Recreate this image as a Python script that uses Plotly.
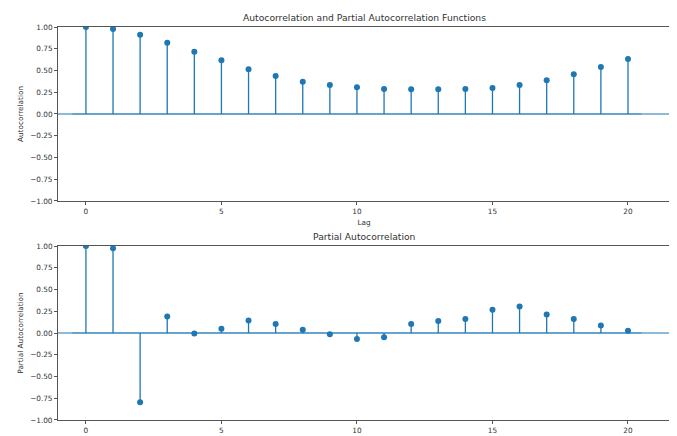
import plotly.graph_objects as go
from plotly.subplots import make_subplots

lags = list(range(21))
acf_vals = [1.0, 0.977, 0.91, 0.82, 0.716, 0.617, 0.513, 0.437, 0.371, 0.333, 0.307,
            0.287, 0.284, 0.284, 0.287, 0.299, 0.333, 0.387, 0.456, 0.540, 0.632]
pacf_vals = [1.0, 0.973, -0.795, 0.19, -0.005, 0.05, 0.145, 0.103, 0.038, -0.015, -0.069,
             -0.05, 0.103, 0.137, 0.16, 0.267, 0.305, 0.214, 0.16, 0.087, 0.027]
band = 0.012
yticks = [-1.0, -0.75, -0.5, -0.25, 0.0, 0.25, 0.5, 0.75, 1.0]
ytick_text = ["\u22121.00", "\u22120.75", "\u22120.50", "\u22120.25", "0.00", "0.25", "0.50", "0.75", "1.00"]
xticks = [0, 5, 10, 15, 20]

C0 = "#1f77b4"
fig = make_subplots(rows=2, cols=1, vertical_spacing=0.1146)

def add_corr(vals, row):
    # confidence band
    bx = [lags[0] - 0.5, lags[-1] + 0.5]
    fig.add_trace(go.Scatter(x=bx + bx[::-1], y=[band, band, -band, -band], fill="toself",
                             fillcolor="rgba(31,119,180,0.35)", line=dict(width=0),
                             mode="lines", hoverinfo="skip", showlegend=False), row=row, col=1)
    # zero line
    fig.add_trace(go.Scatter(x=[-1.5, 22], y=[0, 0], mode="lines",
                             line=dict(color=C0, width=1.2), showlegend=False, hoverinfo="skip"),
                  row=row, col=1)
    xs, ys = [], []
    for l, v in zip(lags, vals):
        xs += [l, l, None]
        ys += [0, v, None]
    fig.add_trace(go.Scatter(x=xs, y=ys, mode="lines", line=dict(color=C0, width=1.3),
                             showlegend=False), row=row, col=1)
    fig.add_trace(go.Scatter(x=lags, y=vals, mode="markers",
                             marker=dict(color=C0, size=6), showlegend=False), row=row, col=1)

add_corr(acf_vals, 1)
add_corr(pacf_vals, 2)

axis_common = dict(showline=True, linecolor="#555", linewidth=1, mirror=True, showgrid=False,
                   zeroline=False, ticks="outside", ticklen=3, tickcolor="#555", automargin=False,
                   tickfont=dict(size=7.3, color="#333"))
for r in (1, 2):
    fig.update_xaxes(range=[-1.03, 21.55], tickvals=xticks, row=r, col=1, **axis_common)
    fig.update_yaxes(range=[-1, 1], tickvals=yticks, ticktext=ytick_text, row=r, col=1, **axis_common)

fig.update_xaxes(title=dict(text="Lag", font=dict(size=7.3, color="#333"), standoff=5), row=1, col=1)
fig.update_yaxes(title=dict(text="Autocorrelation", font=dict(size=7.3, color="#333"), standoff=5), row=1, col=1)
fig.update_yaxes(title=dict(text="Partial Autocorrelation", font=dict(size=7.3, color="#333"), standoff=5), row=2, col=1)

fig.update_layout(
    width=669, height=428,
    margin=dict(l=50, r=7, t=19, b=16, autoexpand=False),
    paper_bgcolor="white", plot_bgcolor="white",
    font=dict(family="DejaVu Sans", size=7.3, color="#333"),
    annotations=[
        dict(text="Autocorrelation and Partial Autocorrelation Functions", x=0.5, y=1.0,
             xref="paper", yref="paper", xanchor="center", yanchor="bottom", yshift=2,
             showarrow=False, font=dict(size=9.2, color="#333")),
        dict(text="Partial Autocorrelation", x=0.5, y=0.4427,
             xref="paper", yref="paper", xanchor="center", yanchor="bottom", yshift=2,
             showarrow=False, font=dict(size=9.2, color="#333")),
    ],
)
fig.update_xaxes(domain=[0, 1])
fig.update_yaxes(domain=[0.5573, 1.0], row=1, col=1)
fig.update_yaxes(domain=[0.0, 0.4427], row=2, col=1)

fig.write_html("out.html")
